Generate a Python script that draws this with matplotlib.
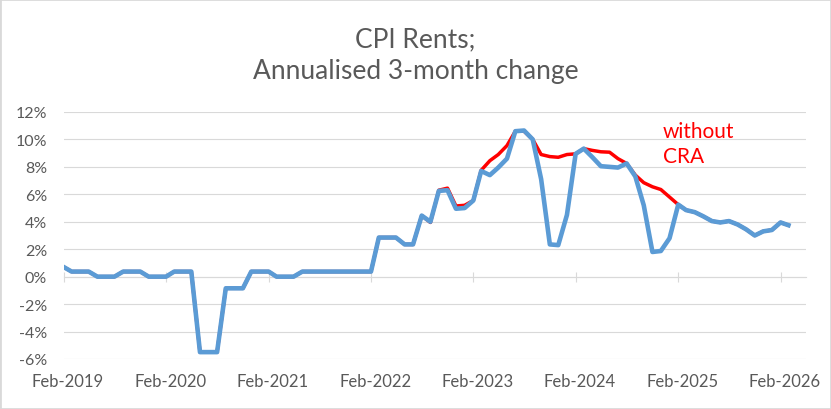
import numpy as np
import pandas as pd
import matplotlib
matplotlib.use("Agg")
import matplotlib.pyplot as plt
import matplotlib.dates as mdates
from matplotlib.patches import Rectangle

# Monthly data, Feb-2019 .. Mar-2026 (annualised 3-month change, %)
months = pd.date_range("2019-02-01", periods=86, freq="MS")

cpi_rents = [
    0.7, 0.37, 0.37, 0.37, 0.0, 0.0, 0.0, 0.37, 0.37, 0.37, 0.0,            # 2019
    0.0, 0.0, 0.37, 0.37, 0.37, -5.5, -5.5, -5.5, -0.85, -0.85, -0.85, 0.37,  # 2020
    0.37, 0.37, 0.0, 0.0, 0.0, 0.37, 0.37, 0.37, 0.37, 0.37, 0.37, 0.37,    # 2021
    0.37, 0.37, 2.85, 2.85, 2.85, 2.35, 2.35, 4.45, 4.0, 6.25, 6.3, 4.95,   # 2022
    5.0, 5.55, 7.7, 7.4, 7.95, 8.6, 10.6, 10.65, 10.0, 7.1, 2.35, 2.3,      # 2023
    4.5, 8.95, 9.33, 8.7, 8.05, 8.0, 7.95, 8.25, 7.3, 5.2, 1.8, 1.87,       # 2024
    2.8, 5.25, 4.85, 4.7, 4.4, 4.05, 3.95, 4.05, 3.8, 3.45, 3.0, 3.3,       # 2025
    3.4, 3.95, 3.75,                                                         # 2026
]

without_cra = [
    0.7, 0.37, 0.37, 0.37, 0.0, 0.0, 0.0, 0.37, 0.37, 0.37, 0.0,
    0.0, 0.0, 0.37, 0.37, 0.37, -5.5, -5.5, -5.5, -0.85, -0.85, -0.85, 0.37,
    0.37, 0.37, 0.0, 0.0, 0.0, 0.37, 0.37, 0.37, 0.37, 0.37, 0.37, 0.37,
    0.37, 0.37, 2.85, 2.85, 2.85, 2.35, 2.35, 4.45, 3.95, 6.3, 6.45, 5.15,
    5.2, 5.55, 7.75, 8.45, 8.9, 9.55, 10.6, 10.6, 10.0, 8.9, 8.75, 8.7,
    8.9, 8.95, 9.33, 9.2, 9.1, 9.07, 8.6, 8.25, 7.4, 6.85, 6.55, 6.35,
    5.8, 5.25, 4.85, 4.7, 4.4, 4.05, 3.95, 4.05, 3.8, 3.45, 3.0, 3.3,
    3.4, 3.95, 3.75,
]

tick_years = list(range(2019, 2027))
y_ticks = [-6, -4, -2, 0, 2, 4, 6, 8, 10, 12]

plt.rcParams["font.family"] = ["Lato", "DejaVu Sans"]
grey = "#595959"
grid = "#D9D9D9"

fig = plt.figure(figsize=(8.31, 4.10), dpi=100)
ax = fig.add_axes([0.0767, 0.122, 0.8933, 0.6024])

ax.plot(months, without_cra, color="#FF0000", lw=2.5, solid_joinstyle="round", zorder=3)
ax.plot(months, cpi_rents, color="#5B9BD5", lw=3.3, solid_joinstyle="round", zorder=4)

ax.set_ylim(-6, 12)
ax.set_yticks(y_ticks)
ax.set_yticklabels([f"{v}%" for v in y_ticks])
ax.yaxis.grid(True, color=grid, lw=0.8)
ax.set_axisbelow(True)
ax.tick_params(axis="y", length=0, pad=12, labelsize=11.5, labelcolor=grey)

x0 = pd.Timestamp("2019-02-01")
ax.set_xlim(x0, x0 + pd.Timedelta(days=2648))
feb = [pd.Timestamp(f"{y}-02-01") for y in tick_years]
ax.set_xticks(feb)
ax.tick_params(axis="x", direction="inout", length=7.5, width=0.8, color=grid, labelbottom=False)

for s in ["top", "right", "left"]:
    ax.spines[s].set_visible(False)
ax.spines["bottom"].set_position(("data", 0))
ax.spines["bottom"].set_color(grid)
ax.spines["bottom"].set_linewidth(0.8)

sec = ax.secondary_xaxis(0)
sec.set_xticks([d + pd.Timedelta(days=15) for d in feb])
sec.xaxis.set_major_formatter(mdates.DateFormatter("%b-%Y"))
sec.tick_params(length=0, pad=10, labelsize=12, labelcolor=grey)
sec.spines["bottom"].set_visible(False)

fig.text(0.5, 1 - 40 / 410, "CPI Rents;", ha="center", va="center", fontsize=19, color=grey)
fig.text(0.5, 1 - 72 / 410, "Annualised 3-month change", ha="center", va="center", fontsize=19, color=grey)

fig.text(663 / 831, 1 - 122 / 410, "without\nCRA", ha="left", va="top", fontsize=15,
         color="#FF0000", linespacing=1.3)

fig.patches.append(Rectangle((0, 0), 1, 1, transform=fig.transFigure, fill=False,
                             ec=grid, lw=2))

fig.savefig("out.png", dpi=100)
